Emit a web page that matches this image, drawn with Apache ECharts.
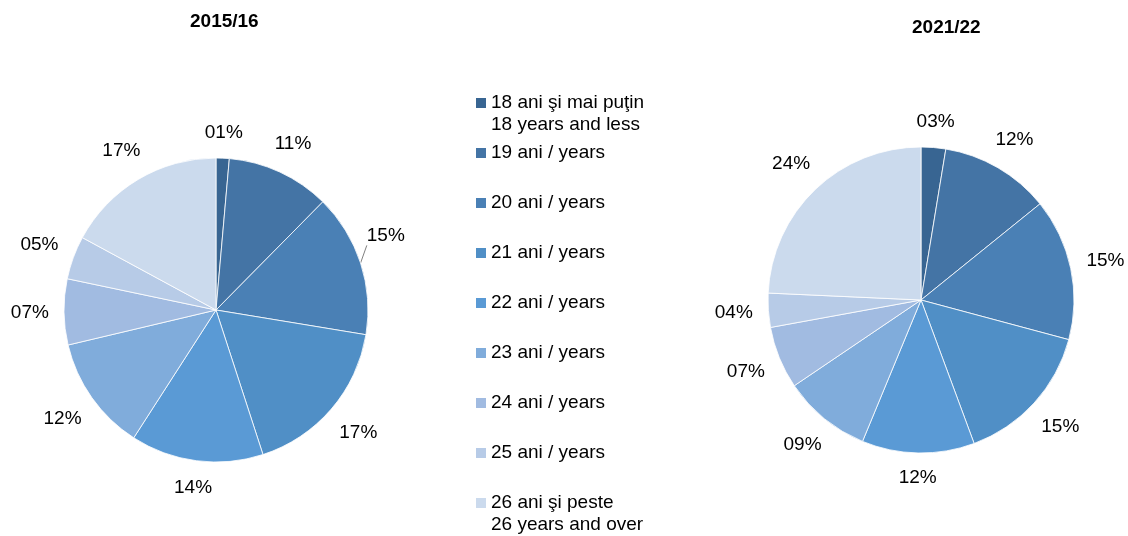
<!DOCTYPE html>
<html>
<head>
<meta charset="utf-8">
<script src="https://cdn.jsdelivr.net/npm/echarts@6/dist/echarts.min.js"></script>
<style>
  html, body { margin: 0; padding: 0; background: #fff; }
  #chart { width: 1128px; height: 536px; }
</style>
</head>
<body>
<div id="chart"></div>
<script>
// age groups (legend names)
var ageGroups = [
    '18 ani şi mai puţin\n18 years and less',
    '19 ani / years',
    '20 ani / years',
    '21 ani / years',
    '22 ani / years',
    '23 ani / years',
    '24 ani / years',
    '25 ani / years',
    '26 ani şi peste\n26 years and over'
];
var years = ['2015/16', '2021/22'];
// shares in percent
var share2015 = [1.4, 11.0, 15.2, 17.4, 14.1, 12.2, 7.0, 4.6, 17.1];
var share2021 = [2.6, 11.6, 15.0, 15.2, 11.9, 9.3, 6.6, 3.6, 24.3];

var palette = ['#386592', '#4474a5', '#4a80b5', '#508fc6', '#5a9ad5',
               '#80acdb', '#a1bbe1', '#b7cbe7', '#cbdaed'];
var fontFam = '"Liberation Sans", Arial, sans-serif';

var myChart = echarts.init(document.getElementById('chart'));

function pad(v) {
    var n = Math.round(v);
    return (n < 10 ? '0' : '') + n + '%';
}

// put label box just outside the slice, along its mid angle
function placeLabel(params, withLine) {
    var pts = params.labelLinePoints;
    if (!pts) return {};
    var p0 = pts[0], p1 = pts[1];
    var dx = p1[0] - p0[0], dy = p1[1] - p0[1];
    var len = Math.sqrt(dx * dx + dy * dy) || 1;
    dx /= len; dy /= len;
    var w = params.labelRect.width, h = params.labelRect.height;
    var ext = Math.abs(dx) * w / 2 + Math.abs(dy) * h / 2;
    var gap = 15;
    var cx = p0[0] + dx * (gap + ext);
    var cy = p0[1] + dy * (gap + ext);
    var out = { x: cx, y: cy, align: 'center', verticalAlign: 'middle' };
    if (withLine) {
        // label pushed up a bit, with a leader to its corner
        cx -= 9; cy -= 16;
        out.x = cx; out.y = cy;
        out.labelLinePoints = [p0, [cx - w / 2, cy + h / 2], [cx - w / 2, cy + h / 2]];
    }
    return out;
}

function buildPie(values, center, radius, lineIndex) {
    return {
        type: 'pie',
        center: center,
        radius: radius,
        startAngle: 90,
        clockwise: true,
        avoidLabelOverlap: false,
        itemStyle: { borderColor: '#fff', borderWidth: 0.8 },
        label: {
            show: true,
            position: 'outside',
            color: '#000',
            fontSize: 19,
            fontFamily: fontFam,
            formatter: function (p) { return pad(p.value); }
        },
        labelLine: {
            show: true, length: 10, length2: 0,
            lineStyle: { opacity: 0, width: 1, color: '#808080' }
        },
        labelLayout: function (params) {
            return placeLabel(params, params.dataIndex === lineIndex);
        },
        emphasis: { disabled: true },
        data: values.map(function (v, i) {
            var d = { name: ageGroups[i], value: v };
            if (i === lineIndex) {
                d.labelLine = { lineStyle: { opacity: 1 } };
            }
            return d;
        })
    };
}

// every legend entry is 3 lines tall so the steps stay even;
// two-line names get a blank line on top so the square sits by the first line
var legendData = ageGroups.map(function (name) {
    var twoLines = name.indexOf('\n') >= 0;
    return {
        name: name,
        textStyle: { padding: twoLines ? 0 : [22, 0, 22, 0] }
    };
});

var option = {
    backgroundColor: '#fff',
    color: palette,
    animation: false,
    title: [
        {
            text: years[0], left: 190, top: 12, padding: 0,
            textStyle: { fontSize: 19, fontWeight: 'bold', color: '#000', fontFamily: fontFam, lineHeight: 20 }
        },
        {
            text: years[1], left: 912, top: 18, padding: 0,
            textStyle: { fontSize: 19, fontWeight: 'bold', color: '#000', fontFamily: fontFam, lineHeight: 20 }
        }
    ],
    legend: {
        orient: 'vertical',
        left: 476,
        top: 70,
        padding: 0,
        itemWidth: 10,
        itemHeight: 10,
        itemGap: -16,
        icon: 'rect',
        selectedMode: false,
        itemStyle: { borderWidth: 0 },
        formatter: function (name) {
            return name.indexOf('\n') >= 0 ? '\n' + name : name;
        },
        textStyle: { fontSize: 19, lineHeight: 22, color: '#000', fontFamily: fontFam },
        data: legendData
    },
    series: [
        buildPie(share2015, [216, 310], 152, 2),
        buildPie(share2021, [921, 300], 153, -1)
    ]
};

myChart.setOption(option);
</script>
</body>
</html>
